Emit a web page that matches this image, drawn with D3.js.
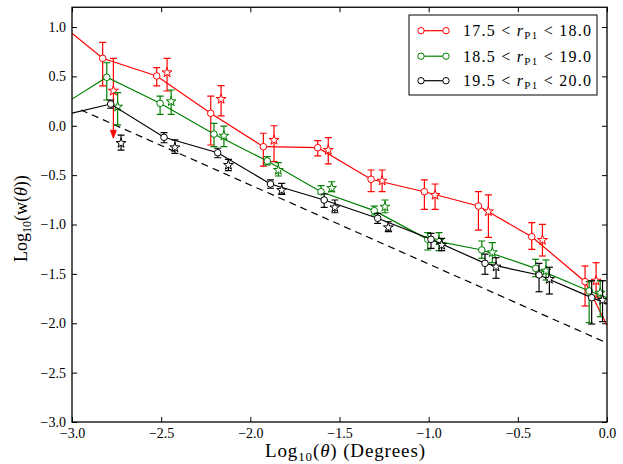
<!DOCTYPE html>
<html><head><meta charset="utf-8">
<script src="https://cdn.jsdelivr.net/npm/d3@7"></script>
<style>
body{margin:0;background:#fff}
svg{display:block}
text{font-family:"Liberation Serif","Times New Roman","DejaVu Serif",serif;fill:#000}
</style>
</head><body>
<svg id="c" width="623" height="464"></svg>
<script>
// ---- data ----
const xTicks = [-3.0, -2.5, -2.0, -1.5, -1.0, -0.5, 0.0];
const yTicks = [-3.0, -2.5, -2.0, -1.5, -1.0, -0.5, 0.0, 0.5, 1.0];
const seriesNames = ["17.5", "18.0", "18.5", "19.0", "19.5", "20.0"];
const seriesColors = ["#ff0000", "#008000", "#000000"];

// circles (connected by line)
const redCircX  = [-2.828, -2.525, -2.222, -1.927, -1.622, -1.323, -1.024, -0.721, -0.422, -0.123];
const redCircY  = [0.683, 0.504, 0.126, -0.212, -0.222, -0.542, -0.668, -0.813, -1.124, -1.579];
const redCircHi = [0.845, 0.588, 0.301, -0.076, -0.151, -0.448, -0.549, -0.668, -0.982, -1.420];
const redCircLo = [0.403, 0.403, -0.195, -0.408, -0.306, -0.668, -0.846, -1.056, -1.251, -1.825];
const redStarX  = [-2.768, -2.467, -2.164, -1.867, -1.563, -1.261, -0.964, -0.665, -0.362, -0.061];
const redStarY  = [0.362, 0.547, 0.278, -0.137, -0.238, -0.549, -0.694, -0.860, -1.150, -1.562];
const redStarHi = [0.683, 0.683, 0.406, 0.000, -0.121, -0.448, -0.590, -0.701, -0.998, -1.387];
const redStarLo = [-0.127, 0.352, 0.099, -0.364, -0.387, -0.668, -0.846, -1.130, -1.319, -1.737];
const redStarArrow = [true, false, false, false, false, false, false, false, false, false];
const redEdgeY = [0.936, -2.02];

const greenCircX  = [-2.805, -2.506, -2.204, -1.905, -1.604, -1.305, -1.005, -0.702, -0.400, -0.100];
const greenCircY  = [0.491, 0.227, -0.084, -0.357, -0.668, -0.860, -1.150, -1.258, -1.444, -1.673];
const greenCircHi = [0.638, 0.301, 0.025, -0.313, -0.607, -0.813, -1.083, -1.167, -1.352, -1.579];
const greenCircLo = [0.261, 0.116, -0.212, -0.397, -0.691, -0.904, -1.258, -1.342, -1.529, -1.994];
const greenStarX  = [-2.744, -2.444, -2.148, -1.843, -1.544, -1.245, -0.942, -0.643, -0.342, -0.038];
const greenStarY  = [0.200, 0.254, -0.094, -0.441, -0.623, -0.813, -1.157, -1.275, -1.461, -1.684];
const greenStarHi = [0.335, 0.362, -0.003, -0.374, -0.567, -0.752, -1.083, -1.184, -1.359, -1.569];
const greenStarLo = [0.008, 0.116, -0.212, -0.509, -0.668, -0.881, -1.265, -1.387, -1.562, -1.934];
const greenStarArrow = [false, false, false, false, false, false, false, false, false, false];
const greenEdgeY = [0.27, -1.74];

const blackCircX  = [-2.783, -2.484, -2.183, -1.887, -1.586, -1.286, -0.987, -0.684, -0.381, -0.086];
const blackCircY  = [0.220, -0.117, -0.273, -0.590, -0.752, -0.937, -1.150, -1.393, -1.511, -1.741];
const blackCircHi = [0.261, -0.070, -0.228, -0.549, -0.691, -0.887, -1.089, -1.299, -1.393, -1.569];
const blackCircLo = [0.177, -0.172, -0.324, -0.633, -0.826, -0.988, -1.241, -1.504, -1.681, -2.008];
const blackStarX  = [-2.725, -2.423, -2.123, -1.824, -1.526, -1.226, -0.927, -0.622, -0.323, -0.025];
const blackStarY  = [-0.168, -0.212, -0.390, -0.644, -0.820, -1.022, -1.200, -1.420, -1.545, -1.758];
const blackStarHi = [-0.094, -0.144, -0.340, -0.583, -0.752, -0.972, -1.140, -1.336, -1.433, -1.569];
const blackStarLo = [-0.246, -0.279, -0.455, -0.694, -0.881, -1.073, -1.265, -1.545, -1.704, -1.984];
const blackStarArrow = [false, false, false, false, false, false, false, false, false, false];
const blackEdgeY = [0.128, -1.80];

const edgeX = [-3.0, 0.0];
// dashed reference line
const dashX = [-2.95, 0.0];
const dashY = [0.16, -2.20];

// ---- layout ----
const svg = d3.select("#c");
const L = 72, R = 607, T = 7.25, B = 422;
const x = d3.scaleLinear().domain([-3, 0]).range([L, R]);
const y = d3.scaleLinear().domain([-3, 1.2]).range([B, T]);
const FONT = "'Liberation Serif','Times New Roman','DejaVu Serif',serif";

svg.append("rect").attr("width", 623).attr("height", 464).attr("fill", "#fff");
svg.append("defs").append("clipPath").attr("id", "clip")
  .append("rect").attr("x", L).attr("y", T).attr("width", R - L).attr("height", B - T);

const fmt = d3.format(".1f");
const tickLen = 5;
const axB = svg.append("g").attr("transform", `translate(0,${B})`)
  .call(d3.axisBottom(x).tickValues(xTicks).tickFormat(fmt).tickSizeInner(-tickLen).tickSizeOuter(0).tickPadding(6));
const axT = svg.append("g").attr("transform", `translate(0,${T})`)
  .call(d3.axisTop(x).tickValues(xTicks).tickFormat("").tickSizeInner(-tickLen).tickSizeOuter(0));
const axL = svg.append("g").attr("transform", `translate(${L},0)`)
  .call(d3.axisLeft(y).tickValues(yTicks).tickFormat(fmt).tickSizeInner(-tickLen).tickSizeOuter(0).tickPadding(6));
const axR = svg.append("g").attr("transform", `translate(${R},0)`)
  .call(d3.axisRight(y).tickValues(yTicks).tickFormat("").tickSizeInner(-tickLen).tickSizeOuter(0));
[axB, axT, axL, axR].forEach(g => {
  g.attr("font-family", FONT);
  g.select(".domain").remove();
  g.selectAll(".tick line").attr("stroke", "#000").attr("stroke-width", 1);
  g.selectAll("text").attr("font-size", 14).style("font-family", FONT);
});

const plot = svg.append("g").attr("clip-path", "url(#clip)");

// dashed line
plot.append("path")
  .attr("d", d3.line().x(d => x(d[0])).y(d => y(d[1]))(d3.zip(dashX, dashY)))
  .attr("fill", "none").attr("stroke", "#000").attr("stroke-width", 1.2)
  .attr("stroke-dasharray", "7,5");

const series = [
  {c: seriesColors[0], cx: redCircX, cy: redCircY, ch: redCircHi, cl: redCircLo,
   sx: redStarX, sy: redStarY, sh: redStarHi, sl: redStarLo, sa: redStarArrow, e: redEdgeY},
  {c: seriesColors[1], cx: greenCircX, cy: greenCircY, ch: greenCircHi, cl: greenCircLo,
   sx: greenStarX, sy: greenStarY, sh: greenStarHi, sl: greenStarLo, sa: greenStarArrow, e: greenEdgeY},
  {c: seriesColors[2], cx: blackCircX, cy: blackCircY, ch: blackCircHi, cl: blackCircLo,
   sx: blackStarX, sy: blackStarY, sh: blackStarHi, sl: blackStarLo, sa: blackStarArrow, e: blackEdgeY}
];

const cap = 3.5;
const starPath = d3.symbol().type(d3.symbolStar).size(30)();
const line = d3.line().x(d => x(d[0])).y(d => y(d[1]));

function errorBars(g, xs, hi, lo, arrows, color) {
  const data = xs.map((v, i) => ({x: v, hi: hi[i], lo: lo[i], a: arrows ? arrows[i] : false}));
  const eg = g.append("g").attr("stroke", color).attr("stroke-width", 1.2).attr("fill", "none");
  data.forEach(d => {
    const px = x(d.x);
    eg.append("line").attr("x1", px).attr("x2", px).attr("y1", y(d.hi)).attr("y2", y(d.lo) - (d.a ? 6 : 0));
    eg.append("line").attr("x1", px - cap).attr("x2", px + cap).attr("y1", y(d.hi)).attr("y2", y(d.hi));
    if (d.a) {
      const ty = y(d.lo);
      g.append("path").attr("d", `M${px - 3},${ty - 8}L${px + 3},${ty - 8}L${px},${ty}Z`)
        .attr("fill", color).attr("stroke", color).attr("stroke-width", 0.8);
    } else {
      eg.append("line").attr("x1", px - cap).attr("x2", px + cap).attr("y1", y(d.lo)).attr("y2", y(d.lo));
    }
  });
}

series.forEach(s => {
  const g = plot.append("g");
  const pts = [[edgeX[0], s.e[0]]].concat(d3.zip(s.cx, s.cy)).concat([[edgeX[1], s.e[1]]]);
  g.append("path").attr("d", line(pts)).attr("fill", "none").attr("stroke", s.c).attr("stroke-width", 1.2);
  errorBars(g, s.cx, s.ch, s.cl, null, s.c);
  errorBars(g, s.sx, s.sh, s.sl, s.sa, s.c);
  g.selectAll("circle.m").data(d3.zip(s.cx, s.cy)).join("circle")
    .attr("cx", d => x(d[0])).attr("cy", d => y(d[1])).attr("r", 3.3)
    .attr("fill", "#fff").attr("stroke", s.c).attr("stroke-width", 1);
  g.selectAll("path.star").data(d3.zip(s.sx, s.sy)).join("path").attr("class", "star")
    .attr("d", starPath)
    .attr("transform", d => `translate(${x(d[0])},${y(d[1]) + 0.8})`)
    .attr("fill", "#fff").attr("stroke", s.c).attr("stroke-width", 1);
});

// frame
svg.append("rect").attr("x", L).attr("y", T).attr("width", R - L).attr("height", B - T)
  .attr("fill", "none").attr("stroke", "#000").attr("stroke-width", 1.3);

// legend
const lg = svg.append("g");
lg.append("rect").attr("x", 409).attr("y", 15).attr("width", 188).attr("height", 80)
  .attr("fill", "#fff").attr("stroke", "#000").attr("stroke-width", 1);
const rowsY = [30.7, 56.2, 80.7];
series.forEach((s, i) => {
  const ry = rowsY[i];
  lg.append("line").attr("x1", 421).attr("x2", 446).attr("y1", ry).attr("y2", ry)
    .attr("stroke", s.c).attr("stroke-width", 1.2);
  [421, 446].forEach(cx => lg.append("circle").attr("cx", cx).attr("cy", ry).attr("r", 3.2)
    .attr("fill", "#fff").attr("stroke", s.c).attr("stroke-width", 1));
  const t = lg.append("text").attr("x", 463).attr("y", ry + 5.5).attr("font-size", 16)
    .attr("textLength", 128).attr("lengthAdjust", "spacing")
    .style("font-family", FONT);
  t.append("tspan").text(seriesNames[2 * i] + " < ");
  t.append("tspan").attr("font-style", "italic").text("r");
  t.append("tspan").attr("font-size", 11).attr("dy", 3).text("P1");
  t.append("tspan").attr("dy", -3).text(" < " + seriesNames[2 * i + 1]);
});

// axis labels
const xl = svg.append("text").attr("x", 265).attr("y", 457).attr("text-anchor", "start")
  .attr("font-size", 19).attr("textLength", 160).attr("lengthAdjust", "spacing").style("font-family", FONT);
xl.append("tspan").text("Log");
xl.append("tspan").attr("font-size", 13).attr("dy", 4).text("10");
xl.append("tspan").attr("dy", -4).text("(");
xl.append("tspan").attr("font-style", "italic").text("θ");
xl.append("tspan").text(") (Degrees)");

const yl = svg.append("text").attr("transform", `translate(27,262) rotate(-90)`)
  .attr("text-anchor", "start").attr("font-size", 18).style("font-family", FONT);
yl.append("tspan").text("Log");
yl.append("tspan").attr("font-size", 12).attr("dy", 4).text("10");
yl.append("tspan").attr("dy", -4).text("(w(");
yl.append("tspan").attr("font-style", "italic").text("θ");
yl.append("tspan").text("))");
</script>
</body></html>
